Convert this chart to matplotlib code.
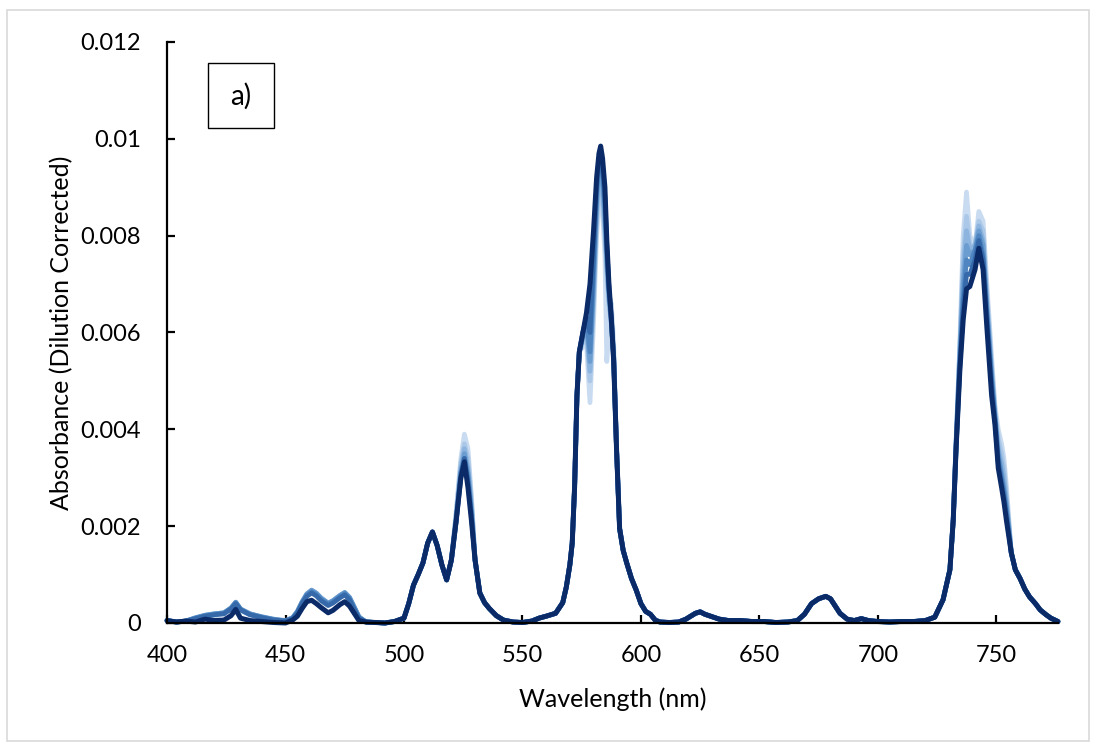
import numpy as np
import matplotlib.pyplot as plt
from matplotlib.patches import Rectangle

plt.rcParams['font.family'] = ['Lato', 'DejaVu Sans']

# darkest (final) spectrum
wavelength = [400, 404, 408, 412, 416, 420, 424, 427, 429, 431, 435, 440, 445, 450,
              453, 455, 457, 459, 461, 463, 465, 468, 470, 473, 475, 477, 479, 481,
              484, 488, 492, 496, 500, 502, 504, 506, 508, 510, 512, 514, 516, 518,
              520, 522, 524, 525.5, 527, 528.5, 530, 532, 534, 536, 539, 542, 546,
              550, 554, 557, 560, 564, 567, 568.5, 570, 571, 572, 573, 574, 575.5,
              577, 578.5, 580, 581.3, 582.3, 583, 583.8, 584.8, 585.6, 586.5, 587.5,
              588.5, 589.7, 591, 592.5, 594, 596, 598, 600, 602, 604, 606, 608,
              612, 616, 619, 621, 623, 625, 627, 630, 633, 637, 642, 647, 652,
              657, 662, 666, 669, 672, 675, 678, 680, 682, 684, 687, 690, 693,
              696, 700, 705, 710, 715, 720, 724, 727.5, 730.4, 731.8, 733, 734.6,
              736, 737.4, 738.8, 741, 742.6, 744.4, 746, 748, 749.4, 750.8, 752.2,
              753.2, 754.3, 756.3, 758, 760, 762, 764, 766.5, 768.5, 771, 773, 776]
dark = [0.00005, 0.00002, 0.00004, 0.00002, 0.00008, 0.00005, 0.00006, 0.00015, 0.00028, 0.00010, 0.00005, 0.00003, 0.00001, 0.00000,
        0.00006, 0.00014, 0.00030, 0.00044, 0.00047, 0.00040, 0.00032, 0.00021, 0.00026, 0.00038, 0.00044, 0.00035, 0.00020, 0.00005,
        0.00002, 0.00001, 0.00000, 0.00003, 0.00010, 0.00040, 0.00078, 0.00100, 0.00124, 0.00165, 0.00188, 0.00160, 0.00120, 0.00089,
        0.00130, 0.00210, 0.00300, 0.00333, 0.00280, 0.00210, 0.00130, 0.00062, 0.00042, 0.00030, 0.00015, 0.00006, 0.00002,
        0.00001, 0.00004, 0.00010, 0.00014, 0.00020, 0.00042, 0.00074, 0.00120, 0.00165, 0.00280, 0.00470, 0.00560, 0.00600,
        0.00640, 0.00700, 0.00810, 0.00920, 0.00970, 0.00985, 0.00960, 0.00900, 0.00790, 0.00700, 0.00630,
        0.00540, 0.00360, 0.00195, 0.00150, 0.00124, 0.00092, 0.00068, 0.00040, 0.00024, 0.00018, 0.00006, 0.00002,
        0.00001, 0.00002, 0.00008, 0.00014, 0.00020, 0.00023, 0.00018, 0.00013, 0.00008, 0.00005, 0.00005, 0.00003, 0.00003,
        0.00001, 0.00002, 0.00005, 0.00018, 0.00040, 0.00050, 0.00055, 0.00050, 0.00035, 0.00020, 0.00008, 0.00005, 0.00009,
        0.00005, 0.00003, 0.00002, 0.00003, 0.00003, 0.00005, 0.00012, 0.00048, 0.00110, 0.00213, 0.00360, 0.00523,
        0.00626, 0.00690, 0.00695, 0.00730, 0.00774, 0.00730, 0.00610, 0.00470, 0.00410, 0.00320, 0.00280,
        0.00250, 0.00210, 0.00145, 0.00110, 0.00092, 0.00070, 0.00054, 0.00040, 0.00027, 0.00017, 0.00010, 0.00003]
assert len(wavelength) == len(dark)

# earlier spectra (lightest first) only differ from the final one in these bands
wl_a = [412, 416, 420, 424, 427, 429, 431, 435, 440, 445, 450, 453, 455, 457, 459, 461, 463, 465, 468, 470, 473, 475, 477, 479, 481]
band_a = [
    [0.00008, 0.00012, 0.00015, 0.00018, 0.00028, 0.00040, 0.00026, 0.00016, 0.00010, 0.00006, 0.00003, 0.00009, 0.00020, 0.00040, 0.00056, 0.00064, 0.00058, 0.00048, 0.00038, 0.00043, 0.00054, 0.00060, 0.00050, 0.00030, 0.00010],
    [0.00010, 0.00015, 0.00018, 0.00020, 0.00030, 0.00042, 0.00028, 0.00018, 0.00012, 0.00007, 0.00004, 0.00010, 0.00022, 0.00042, 0.00058, 0.00066, 0.00060, 0.00050, 0.00040, 0.00045, 0.00056, 0.00062, 0.00052, 0.00032, 0.00012],
    [0.00010, 0.00016, 0.00019, 0.00021, 0.00031, 0.00043, 0.00029, 0.00019, 0.00012, 0.00007, 0.00004, 0.00011, 0.00023, 0.00043, 0.00060, 0.00067, 0.00061, 0.00051, 0.00041, 0.00046, 0.00057, 0.00063, 0.00053, 0.00033, 0.00012],
    [0.00011, 0.00016, 0.00019, 0.00021, 0.00031, 0.00043, 0.00029, 0.00019, 0.00013, 0.00008, 0.00005, 0.00011, 0.00024, 0.00044, 0.00060, 0.00068, 0.00062, 0.00052, 0.00041, 0.00046, 0.00057, 0.00063, 0.00053, 0.00033, 0.00013],
    [0.00010, 0.00015, 0.00018, 0.00020, 0.00030, 0.00042, 0.00028, 0.00018, 0.00012, 0.00007, 0.00004, 0.00010, 0.00022, 0.00042, 0.00058, 0.00065, 0.00059, 0.00049, 0.00039, 0.00044, 0.00055, 0.00061, 0.00051, 0.00031, 0.00011],
    [0.00009, 0.00014, 0.00017, 0.00019, 0.00029, 0.00040, 0.00027, 0.00017, 0.00011, 0.00006, 0.00004, 0.00009, 0.00021, 0.00040, 0.00055, 0.00062, 0.00056, 0.00046, 0.00036, 0.00041, 0.00052, 0.00058, 0.00048, 0.00028, 0.00010],
]

wl_b = [522, 524, 525.5, 527, 528.5]
band_b = [
    [0.0023, 0.0034, 0.0039, 0.0036, 0.0026],
    [0.0022, 0.0033, 0.0037, 0.0034, 0.0025],
    [0.0022, 0.0032, 0.0036, 0.0032, 0.0024],
    [0.0021, 0.0031, 0.0035, 0.0031, 0.0023],
    [0.0021, 0.0031, 0.0034, 0.0030, 0.0022],
    [0.0021, 0.0030, 0.0034, 0.0029, 0.0022],
]

wl_c = [575.5, 577, 578.5, 580, 581.3, 582.3, 583, 583.8, 584.8, 585.6, 586.5, 587.5, 588.5]
band_c = [
    [0.0057, 0.0058, 0.00455, 0.0062, 0.0080, 0.0087, 0.0088, 0.0085, 0.0076, 0.0054, 0.0061, 0.0066, 0.0058],
    [0.0058, 0.0060, 0.0050, 0.0066, 0.0083, 0.0089, 0.0090, 0.0087, 0.0080, 0.0072, 0.0066, 0.0062, 0.0055],
    [0.0059, 0.0061, 0.0052, 0.0068, 0.0085, 0.0091, 0.0092, 0.0089, 0.0082, 0.0074, 0.0067, 0.0062, 0.0055],
    [0.0059, 0.0062, 0.0054, 0.0070, 0.0087, 0.0093, 0.0094, 0.0091, 0.0084, 0.0075, 0.0068, 0.0062, 0.0055],
    [0.0060, 0.0063, 0.0056, 0.0073, 0.0089, 0.0095, 0.0096, 0.0093, 0.0086, 0.0077, 0.0069, 0.0063, 0.0055],
    [0.0060, 0.0063, 0.0060, 0.0076, 0.0090, 0.0096, 0.0097, 0.0094, 0.0088, 0.0078, 0.0069, 0.0063, 0.0054],
]

wl_d = [733, 734.6, 736, 737.4, 738.8, 741, 742.6, 744.4, 746, 748, 749.4, 750.8, 752.2, 753.2, 754.3]
band_d = [
    [0.0038, 0.0058, 0.0080, 0.0089, 0.0080, 0.0078, 0.0085, 0.0083, 0.0070, 0.0055, 0.0045, 0.0040, 0.0037, 0.0034, 0.0028],
    [0.0037, 0.0057, 0.0076, 0.0084, 0.0078, 0.0078, 0.0083, 0.0081, 0.0068, 0.0053, 0.0044, 0.0038, 0.0035, 0.0032, 0.0026],
    [0.0037, 0.0056, 0.0073, 0.0081, 0.0077, 0.0078, 0.0082, 0.0079, 0.0066, 0.0052, 0.0043, 0.0036, 0.0033, 0.0030, 0.0025],
    [0.0037, 0.0055, 0.0070, 0.0078, 0.0076, 0.0077, 0.0081, 0.0078, 0.0065, 0.0051, 0.0043, 0.0035, 0.0031, 0.0028, 0.0024],
    [0.0036, 0.0054, 0.0067, 0.0075, 0.0074, 0.0077, 0.0080, 0.0076, 0.0064, 0.0050, 0.0042, 0.0034, 0.0030, 0.0027, 0.0023],
    [0.0036, 0.0053, 0.0065, 0.0072, 0.0072, 0.0075, 0.0079, 0.0075, 0.0063, 0.0049, 0.0042, 0.0033, 0.0029, 0.0026, 0.0022],
]

light_colors = ['#c9dbf0', '#abc8e8', '#8cb4de', '#6c9dd0', '#4f86c1', '#3569aa']
dark_color = '#0a2b68'

x_ticks = [400, 450, 500, 550, 600, 650, 700, 750]
y_ticks = [0, 0.002, 0.004, 0.006, 0.008, 0.01, 0.012]
y_labels = ['0', '0.002', '0.004', '0.006', '0.008', '0.01', '0.012']

# build the earlier spectra
curves = []
for i in range(len(light_colors)):
    a = list(dark)
    for grid, vals in ((wl_a, band_a[i]), (wl_b, band_b[i]), (wl_c, band_c[i]), (wl_d, band_d[i])):
        for w, v in zip(grid, vals):
            a[wavelength.index(w)] = v
    curves.append(a)

fig = plt.figure(figsize=(10.96, 7.42), dpi=100)
fig.patches.append(Rectangle((7 / 1096, 1 / 742), 1082 / 1096, 731 / 742, transform=fig.transFigure,
                             fill=False, edgecolor='#d9d9d9', lw=1.2))
ax = fig.add_axes([0.1524, 0.1604, 0.8129, 0.783])

for c, col in zip(curves, light_colors):
    ax.plot(wavelength, c, color=col, lw=3.4, solid_joinstyle='round', solid_capstyle='round', clip_on=False)
ax.plot(wavelength, dark, color=dark_color, lw=3.6, solid_joinstyle='round', solid_capstyle='round', clip_on=False)

ax.set_xlim(400, 776)
ax.set_ylim(0, 0.012)
ax.set_xticks(x_ticks)
ax.set_yticks(y_ticks)
ax.set_yticklabels(y_labels)
for s in ['top', 'right']:
    ax.spines[s].set_visible(False)
for s in ['left', 'bottom']:
    ax.spines[s].set_linewidth(1.6)
ax.tick_params(direction='in', length=6, width=1.6, labelsize=17, colors='black')
ax.tick_params(axis='y', pad=19)
ax.tick_params(axis='x', pad=16)
ax.set_xlabel('Wavelength (nm)', fontsize=18, labelpad=15)
ax.set_ylabel('Absorbance (Dilution Corrected)', fontsize=18, labelpad=5)

fig.patches.append(Rectangle((208 / 1096, 1 - 128 / 742), 66 / 1096, 65 / 742, transform=fig.transFigure,
                             fill=False, edgecolor='black', lw=1))
fig.text(241 / 1096, 1 - 96 / 742, 'a)', fontsize=20, ha='center', va='center')

fig.savefig('out.png', dpi=100)
